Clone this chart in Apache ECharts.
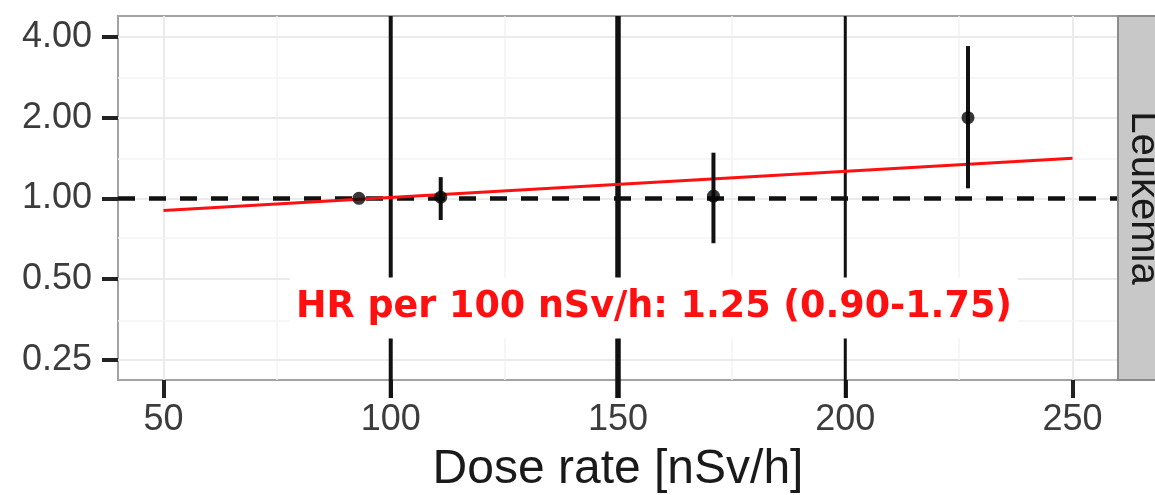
<!DOCTYPE html>
<html>
<head>
<meta charset="utf-8">
<title>Leukemia HR</title>
<script src="https://cdn.jsdelivr.net/npm/echarts@6/dist/echarts.min.js"></script>
<style>
  html, body { margin: 0; padding: 0; background: #fff; }
  #chart { width: 1155px; height: 495px; }
</style>
</head>
<body>
<div id="chart"></div>
<script>
// data
var xTicks = [50, 100, 150, 200, 250];
var xMinorTicks = [75, 125, 175, 225];
var yTicks = [0.25, 0.5, 1, 2, 4];
var yMinorTicks = [0.354, 0.707, 1.414, 2.828];

// category points (first one is the reference, no CI)
var doseX = [93, 111, 171, 227];
var hrVal = [1.00, 1.01, 1.02, 2.00];
var hrLow = [null, 0.83, 0.68, 1.09];
var hrHigh = [null, 1.20, 1.48, 3.70];

// categories whose CI runs past the whole axis
var wideX = [100, 150, 200];

// fitted trend
var fitX = [50, 250];
var fitHR = [0.90, 1.41];

var refHR = 1;
var stripLabel = 'Leukemia';
var hrText = 'HR per 100 nSv/h: 1.25 (0.90-1.75)';

var chart = echarts.init(document.getElementById('chart'));

var pts = [], bars = [], fit = [], wide = [];
for (var i = 0; i < doseX.length; i++) {
  pts.push([doseX[i], hrVal[i]]);
  if (hrLow[i] != null) bars.push([doseX[i], hrLow[i], hrHigh[i]]);
}
for (var i = 0; i < fitX.length; i++) fit.push([fitX[i], fitHR[i]]);
for (var i = 0; i < wideX.length; i++) wide.push([wideX[i], refHR]);

var major = { color: '#ebebeb', width: 2, type: 'solid' };
var minor = { color: '#f3f3f3', width: 1.5, type: 'solid' };
var gridLines = [];
xTicks.forEach(function (v) { gridLines.push({ xAxis: v, lineStyle: major }); });
xMinorTicks.forEach(function (v) { gridLines.push({ xAxis: v, lineStyle: minor }); });
yTicks.forEach(function (v) { gridLines.push({ yAxis: v, lineStyle: major }); });
yMinorTicks.forEach(function (v) { gridLines.push({ yAxis: v, lineStyle: minor }); });

var wideW = [4, 5.5, 3];

var axisFont = { fontFamily: 'Liberation Sans', fontSize: 36, color: '#3c3c3c' };

var option = {
  animation: false,
  grid: {
    left: 118, top: 16, right: 37, bottom: 115,
    containLabel: false, outerBoundsMode: 'none',
    show: true, borderColor: '#a3a3a3', borderWidth: 2, backgroundColor: '#fff'
  },
  xAxis: {
    type: 'value', min: 40, max: 260,
    axisLine: { show: false },
    splitLine: { show: false },
    axisTick: { customValues: xTicks, length: 18, lineStyle: { color: '#222', width: 4 } },
    axisLabel: Object.assign({ customValues: xTicks, margin: 22 }, axisFont),
    name: 'Dose rate [nSv/h]', nameLocation: 'middle', nameGap: 66,
    nameTextStyle: { fontFamily: 'Liberation Sans', fontSize: 48, color: '#1a1a1a' }
  },
  yAxis: {
    type: 'log', logBase: 2, min: 0.21, max: 4.79,
    axisLine: { show: false },
    splitLine: { show: false },
    axisTick: { customValues: yTicks, length: 16, lineStyle: { color: '#222', width: 4 } },
    axisLabel: Object.assign({
      customValues: yTicks, margin: 26,
      formatter: function (v) { return (+v).toFixed(2); }
    }, axisFont)
  },
  series: [
    {
      // panel grid
      type: 'line', z: 1, data: [[xTicks[0], refHR]], symbol: 'none', silent: true,
      markLine: { z: 1, silent: true, symbol: 'none', label: { show: false }, data: gridLines }
    },
    {
      // HR = 1 reference
      type: 'line', z: 2, data: [[xTicks[0], refHR]], symbol: 'none', silent: true,
      markLine: {
        z: 2, silent: true, symbol: 'none', label: { show: false },
        data: [{ yAxis: refHR }],
        lineStyle: { color: '#111', width: 4.5, type: [17, 14] }
      }
    },
    {
      type: 'custom', z: 3, data: wide, clip: false,
      renderItem: function (params, api) {
        var cs = params.coordSys;
        var px = api.coord([api.value(0), api.value(1)])[0];
        return {
          type: 'line',
          shape: { x1: px, y1: cs.y, x2: px, y2: cs.y + cs.height + 18 },
          style: { stroke: '#111', lineWidth: wideW[params.dataIndex] }
        };
      }
    },
    {
      type: 'line', z: 4, data: fit, symbol: 'none',
      lineStyle: { color: '#ff1010', width: 3 }
    },
    {
      type: 'custom', z: 5, data: bars,
      renderItem: function (params, api) {
        var a = api.coord([api.value(0), api.value(1)]);
        var b = api.coord([api.value(0), api.value(2)]);
        return {
          type: 'line',
          shape: { x1: a[0], y1: a[1], x2: b[0], y2: b[1] },
          style: { stroke: '#111', lineWidth: 4 }
        };
      }
    },
    {
      type: 'scatter', z: 6, data: pts, symbolSize: 13,
      itemStyle: { color: '#050505' }
    }
  ],
  graphic: [
    {
      type: 'rect', z: 50,
      shape: { x: 1118, y: 16, width: 60, height: 364 },
      style: { fill: '#c8c8c8', stroke: '#8c8c8c', lineWidth: 2 }
    },
    {
      type: 'text', z: 51, x: 1143, y: 198, rotation: -Math.PI / 2,
      style: {
        text: stripLabel, fill: '#1a1a1a', align: 'center', verticalAlign: 'middle',
        font: '40px "Liberation Sans"'
      }
    },
    {
      type: 'text', z: 60, x: 654, y: 308,
      style: {
        text: hrText, fill: '#ff1010', align: 'center', verticalAlign: 'middle',
        font: 'bold 36.5px "DejaVu Sans"', backgroundColor: '#fff', padding: [12, 6]
      }
    }
  ]
};

chart.setOption(option);
</script>
</body>
</html>
